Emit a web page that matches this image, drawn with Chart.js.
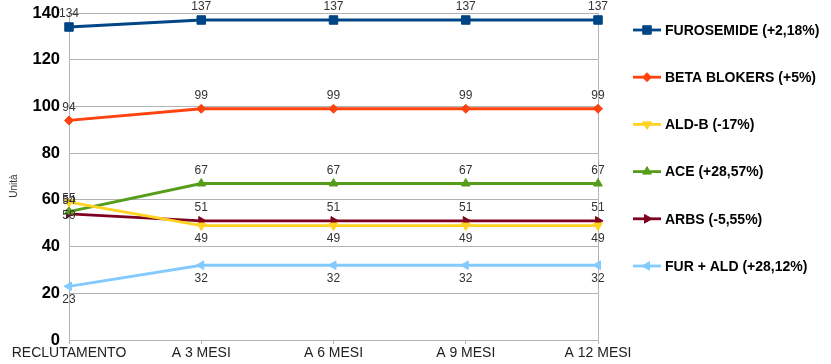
<!DOCTYPE html>
<html>
<head>
<meta charset="utf-8">
<script src="https://cdn.jsdelivr.net/npm/chart.js@4/dist/chart.umd.min.js"></script>
<style>
  html, body { margin: 0; padding: 0; background: #fff; }
  #wrap { width: 831px; height: 364px; }
</style>
</head>
<body>
<div id="wrap"><canvas id="c" width="831" height="364"></canvas></div>
<script>
// Time points of the follow-up
const categories = ['RECLUTAMENTO', 'A 3 MESI', 'A 6 MESI', 'A 9 MESI', 'A 12 MESI'];

// Patients on each therapy at every time point
const furosemide = [134, 137, 137, 137, 137];
const betaBlokers = [94, 99, 99, 99, 99];
const aldB = [59, 49, 49, 49, 49];
const ace = [55, 67, 67, 67, 67];
const arbs = [54, 51, 51, 51, 51];
const furAld = [23, 32, 32, 32, 32];

// Legend texts
const seriesNames = [
  'FUROSEMIDE (+2,18%)',
  'BETA BLOKERS (+5%)',
  'ALD-B (-17%)',
  'ACE (+28,57%)',
  'ARBS (-5,55%)',
  'FUR + ALD (+28,12%)'
];

// Y axis range
const yMin = 0, yMax = 140, yStep = 20;
const yTitle = 'Unità';

const styles = [
  { color: '#004586', point: 'rect', rot: 0, r: 6, labelPos: 'above' },
  { color: '#ff420e', point: 'rectRot', rot: 0, r: 4.5, labelPos: 'above' },
  { color: '#ffd320', point: 'triangle', rot: 180, r: 5, labelPos: 'below' },
  { color: '#579d1c', point: 'triangle', rot: 0, r: 5, labelPos: 'above' },
  { color: '#7e0021', point: 'triangle', rot: 90, r: 5, labelPos: 'above' },
  { color: '#83caff', point: 'triangle', rot: -90, r: 5, labelPos: 'below' }
];

const seriesValues = [furosemide, betaBlokers, aldB, ace, arbs, furAld];

const datasets = seriesValues.map((vals, i) => ({
  label: seriesNames[i],
  data: vals,
  borderColor: styles[i].color,
  backgroundColor: styles[i].color,
  borderWidth: 2.8,
  pointStyle: styles[i].point,
  pointRotation: styles[i].rot,
  pointRadius: styles[i].r,
  pointHoverRadius: styles[i].r,
  pointBorderWidth: 1,
  pointBackgroundColor: styles[i].color,
  pointBorderColor: styles[i].color,
  tension: 0,
  fill: false,
  labelPos: styles[i].labelPos
}));

// Writes each value next to its point
const valueLabels = {
  id: 'valueLabels',
  afterDatasetsDraw(chart) {
    const ctx = chart.ctx;
    ctx.save();
    ctx.font = '12px "Liberation Sans", Arial, sans-serif';
    ctx.fillStyle = '#333333';
    ctx.textAlign = 'center';
    ctx.textBaseline = 'middle';
    chart.data.datasets.forEach((ds, di) => {
      const meta = chart.getDatasetMeta(di);
      meta.data.forEach((pt, i) => {
        const dy = ds.labelPos === 'above' ? -13 : 13;
        ctx.fillText(String(ds.data[i]), pt.x, pt.y + dy);
      });
    });
    ctx.restore();
  }
};

// Legend on the right: line sample with its marker, then the name
const sideLegend = {
  id: 'sideLegend',
  afterDraw(chart) {
    const ctx = chart.ctx;
    const x0 = 633, x1 = 661, tx = 665, y0 = 30, gap = 47.2;
    ctx.save();
    chart.data.datasets.forEach((ds, i) => {
      const y = y0 + i * gap;
      ctx.strokeStyle = ds.borderColor;
      ctx.lineWidth = 2.8;
      ctx.beginPath();
      ctx.moveTo(x0, y);
      ctx.lineTo(x1, y);
      ctx.stroke();
      ctx.fillStyle = ds.borderColor;
      ctx.strokeStyle = ds.borderColor;
      ctx.lineWidth = 1;
      if (Chart.helpers && Chart.helpers.drawPoint) {
        Chart.helpers.drawPoint(ctx, {
          pointStyle: ds.pointStyle,
          rotation: ds.pointRotation,
          radius: ds.pointRadius,
          borderWidth: 1
        }, (x0 + x1) / 2, y);
      }
      ctx.fillStyle = '#000000';
      ctx.font = 'bold 14px "Liberation Sans", Arial, sans-serif';
      ctx.textAlign = 'left';
      ctx.textBaseline = 'middle';
      ctx.fillText(ds.label, tx, y + 1);
    });
    ctx.restore();
  }
};

// Rotated axis title, a little below the middle of the plot
const axisTitle = {
  id: 'axisTitle',
  afterDraw(chart) {
    const ctx = chart.ctx;
    ctx.save();
    ctx.translate(14, 186);
    ctx.rotate(-Math.PI / 2);
    ctx.fillStyle = '#333333';
    ctx.font = '10px "Liberation Sans", Arial, sans-serif';
    ctx.textAlign = 'center';
    ctx.textBaseline = 'middle';
    ctx.fillText(yTitle, 0, 0);
    ctx.restore();
  }
};

const nCat = categories.length;

new Chart(document.getElementById('c'), {
  type: 'line',
  data: { labels: categories, datasets },
  options: {
    responsive: false,
    animation: false,
    layout: { padding: { left: 0, right: 233, top: 13, bottom: 0 } },
    plugins: {
      legend: { display: false },
      tooltip: { enabled: false }
    },
    scales: {
      x: {
        offset: false,
        grid: {
          display: true,
          drawOnChartArea: true,
          color: (c) => (c.index === nCat - 1 ? '#b3b3b3' : 'rgba(0,0,0,0)'),
          tickColor: '#b3b3b3',
          tickLength: 4
        },
        border: { display: true, color: '#b3b3b3' },
        ticks: {
          autoSkip: false,
          maxRotation: 0,
          minRotation: 0,
          padding: 1,
          color: '#222222',
          font: { family: '"Liberation Sans", Arial, sans-serif', size: 14 }
        },
        afterFit(scale) {
          scale.height = 24;
          scale.paddingLeft = 0;
          scale.paddingRight = 0;
        }
      },
      y: {
        min: yMin,
        max: yMax,
        ticks: {
          stepSize: yStep,
          padding: 9,
          color: '#000000',
          font: { family: '"Liberation Sans", Arial, sans-serif', size: 16.5, weight: 'bold' }
        },
        grid: { color: '#b3b3b3', drawTicks: false },
        border: { display: true, color: '#b3b3b3' },
        afterFit(scale) {
          scale.width = 69;
          scale.paddingTop = 0;
          scale.paddingBottom = 0;
        }
      }
    }
  },
  plugins: [valueLabels, sideLegend, axisTitle]
});
</script>
</body>
</html>
